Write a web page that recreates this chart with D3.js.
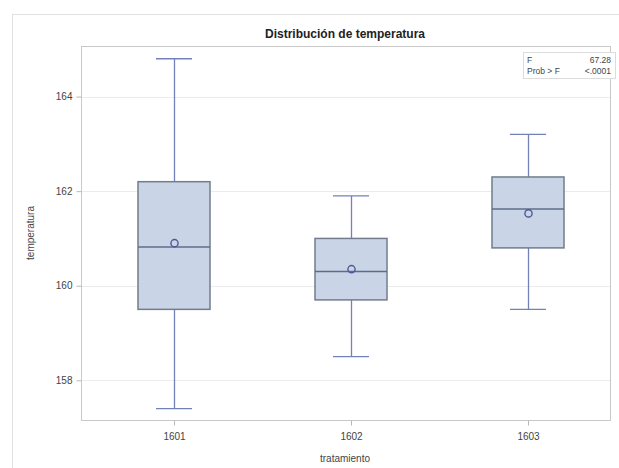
<!DOCTYPE html>
<html>
<head>
<meta charset="utf-8">
<script src="https://cdn.jsdelivr.net/npm/d3@7"></script>
<style>
  html, body { margin: 0; padding: 0; background: #fff; }
  svg { display: block; font-family: "Liberation Sans", Arial, sans-serif; }
</style>
</head>
<body>
<svg id="chart" width="619" height="468"></svg>
<script>
// Temperature distribution per treatment (box plot summary statistics)
const categories = ["1601", "1602", "1603"];
const minVals    = [157.4, 158.5, 159.5];
const q1Vals     = [159.5, 159.7, 160.8];
const medianVals = [160.82, 160.3, 161.62];
const q3Vals     = [162.2, 161.0, 162.3];
const maxVals    = [164.8, 161.9, 163.2];
const meanVals   = [160.9, 160.35, 161.53];
const yTicks     = [158, 160, 162, 164];
const statLabels = ["F", "Prob > F"];
const statValues = ["67.28", "<.0001"];

const svg = d3.select("#chart");

const plot = { left: 81, right: 610, top: 46, bottom: 420 };

const y = d3.scaleLinear().domain([157.16, 165.07]).range([plot.bottom, plot.top]);
const x = d3.scalePoint().domain(categories).range([174, 528]);

// Outer frame
svg.append("rect")
  .attr("x", 12.5).attr("y", 14.5).attr("width", 640).attr("height", 480)
  .attr("fill", "none").attr("stroke", "#e2e2e2");

// Title
svg.append("text")
  .attr("x", 345).attr("y", 38).attr("text-anchor", "middle")
  .attr("font-size", 12).attr("font-weight", "bold").attr("fill", "#222")
  .text("Distribución de temperatura");

// Gridlines
svg.append("g").selectAll("line").data(yTicks).join("line")
  .attr("x1", plot.left).attr("x2", plot.right)
  .attr("y1", d => Math.round(y(d)) + 0.5).attr("y2", d => Math.round(y(d)) + 0.5)
  .attr("stroke", "#ececec");

// Plot frame
svg.append("rect")
  .attr("x", plot.left + 0.5).attr("y", plot.top + 0.5)
  .attr("width", plot.right - plot.left).attr("height", plot.bottom - plot.top)
  .attr("fill", "none").attr("stroke", "#c9c9c9");

// Y axis
const yAxis = d3.axisLeft(y).tickValues(yTicks).tickSize(5).tickPadding(4).tickFormat(d3.format("d"));
const gy = svg.append("g").attr("transform", `translate(${plot.left + 0.5},0)`).call(yAxis);
gy.select(".domain").remove();
gy.selectAll(".tick line").attr("stroke", "#b8b8b8");
gy.selectAll(".tick text").attr("font-size", 10).attr("fill", "#444")
  .attr("font-family", "Liberation Sans, Arial, sans-serif");

// X axis
const xAxis = d3.axisBottom(x).tickSize(5).tickPadding(7);
const gx = svg.append("g").attr("transform", `translate(0,${plot.bottom + 0.5})`).call(xAxis);
gx.select(".domain").remove();
gx.selectAll(".tick line").attr("stroke", "#b8b8b8");
gx.selectAll(".tick text").attr("font-size", 10).attr("fill", "#444")
  .attr("font-family", "Liberation Sans, Arial, sans-serif");

// Axis titles
svg.append("text")
  .attr("x", 345).attr("y", 462).attr("text-anchor", "middle")
  .attr("font-size", 10).attr("fill", "#444")
  .text("tratamiento");
svg.append("text")
  .attr("transform", `translate(34,${(plot.top + plot.bottom) / 2}) rotate(-90)`)
  .attr("text-anchor", "middle")
  .attr("font-size", 10).attr("fill", "#444")
  .text("temperatura");

// Box plots
const boxW = 72, capW = 36;
const whiskerColor = "#7282b8";
const boxes = categories.map((c, i) => ({
  c, min: minVals[i], q1: q1Vals[i], med: medianVals[i], q3: q3Vals[i], max: maxVals[i], mean: meanVals[i]
}));

const g = svg.append("g").selectAll("g").data(boxes).join("g")
  .attr("transform", d => `translate(${x(d.c)},0)`);

// whiskers
g.append("line").attr("x1", 0.5).attr("x2", 0.5)
  .attr("y1", d => y(d.max)).attr("y2", d => y(d.q3))
  .attr("stroke", whiskerColor).attr("stroke-width", 1.3);
g.append("line").attr("x1", 0.5).attr("x2", 0.5)
  .attr("y1", d => y(d.q1)).attr("y2", d => y(d.min))
  .attr("stroke", whiskerColor).attr("stroke-width", 1.3);
// caps
g.append("line").attr("x1", -capW / 2).attr("x2", capW / 2)
  .attr("y1", d => y(d.max)).attr("y2", d => y(d.max))
  .attr("stroke", whiskerColor).attr("stroke-width", 1.3);
g.append("line").attr("x1", -capW / 2).attr("x2", capW / 2)
  .attr("y1", d => y(d.min)).attr("y2", d => y(d.min))
  .attr("stroke", whiskerColor).attr("stroke-width", 1.3);
// box
g.append("rect")
  .attr("x", -boxW / 2).attr("width", boxW)
  .attr("y", d => y(d.q3)).attr("height", d => y(d.q1) - y(d.q3))
  .attr("fill", "#c9d5e6").attr("stroke", "#727c8c").attr("stroke-width", 1.5);
// median
g.append("line").attr("x1", -boxW / 2).attr("x2", boxW / 2)
  .attr("y1", d => y(d.med)).attr("y2", d => y(d.med))
  .attr("stroke", "#5c6d8c").attr("stroke-width", 1.5);
// mean marker
g.append("circle").attr("cx", 0.5).attr("cy", d => y(d.mean)).attr("r", 3.6)
  .attr("fill", "none").attr("stroke", "#4c5a94").attr("stroke-width", 1.4);

// Statistics inset
const inset = svg.append("g");
inset.append("rect")
  .attr("x", 523.5).attr("y", 52.5).attr("width", 92).attr("height", 26)
  .attr("fill", "#fff").attr("stroke", "#dcdcdc");
inset.selectAll("text.lbl").data(statLabels).join("text").attr("class", "lbl")
  .attr("x", 527).attr("y", (d, i) => 63 + i * 11)
  .attr("font-size", 8.5).attr("fill", "#444").text(d => d);
inset.selectAll("text.val").data(statValues).join("text").attr("class", "val")
  .attr("x", 611).attr("y", (d, i) => 63 + i * 11).attr("text-anchor", "end")
  .attr("font-size", 8.5).attr("fill", "#444").text(d => d);
</script>
</body>
</html>
